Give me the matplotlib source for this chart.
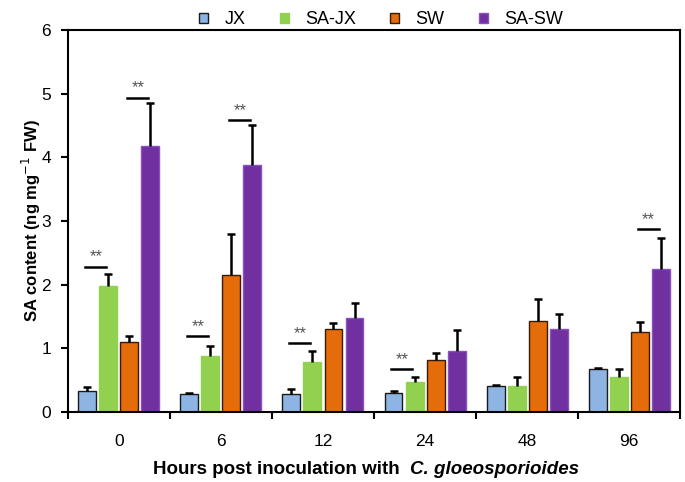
import numpy as np
import matplotlib.pyplot as plt

plt.rcParams['font.family'] = ['Liberation Sans', 'DejaVu Sans']

hours = ["0", "6", "12", "24", "48", "96"]
series = ["JX", "SA-JX", "SW", "SA-SW"]

jx = [0.33, 0.28, 0.29, 0.30, 0.41, 0.67]
sa_jx = [1.98, 0.88, 0.78, 0.48, 0.41, 0.55]
sw = [1.10, 2.15, 1.30, 0.82, 1.43, 1.26]
sa_sw = [4.18, 3.88, 1.48, 0.96, 1.30, 2.24]

jx_err = [0.07, 0.02, 0.07, 0.03, 0.01, 0.02]
sa_jx_err = [0.19, 0.15, 0.18, 0.07, 0.14, 0.12]
sw_err = [0.09, 0.64, 0.10, 0.11, 0.34, 0.15]
sa_sw_err = [0.67, 0.63, 0.23, 0.33, 0.24, 0.49]

# significance: group index, first bar of the pair, line height
sig_group = [0, 0, 1, 1, 2, 3, 5]
sig_bar = [0, 2, 0, 2, 0, 0, 2]
sig_y = [2.28, 4.93, 1.19, 4.58, 1.08, 0.67, 2.87]

colors = ["#8DB4E2", "#92D050", "#E46C0A", "#7030A0"]
edges = ["#1a1a1a", "#92D050", "#3a1a00", "#8a50c0"]

values = [jx, sa_jx, sw, sa_sw]
errors = [jx_err, sa_jx_err, sw_err, sa_sw_err]

fig = plt.figure(figsize=(6.85, 4.82), dpi=100)
ax = fig.add_axes([0.099, 0.145, 0.894, 0.793])

x = np.arange(len(hours))
step = 0.206
width = 0.176
offsets = (np.arange(4) - 1.5) * step

for i in range(4):
    ax.bar(x + offsets[i], values[i], width, color=colors[i], edgecolor=edges[i],
           linewidth=1.0, label=series[i], zorder=2)
    eb = ax.errorbar(x + offsets[i], values[i], yerr=[np.zeros(6), errors[i]], fmt='none',
                     ecolor='black', elinewidth=1.8, capsize=3, capthick=1.8, zorder=3)
    eb[1][0].set_visible(False)  # no cap at the bar top

for g, b, y in zip(sig_group, sig_bar, sig_y):
    x1 = g + offsets[b] - 0.02
    x2 = g + offsets[b + 1] - 0.02
    ax.plot([x1, x2], [y, y], color='black', linewidth=1.8, zorder=4)
    ax.text((x1 + x2) / 2, y + 0.04, "**", ha='center', va='bottom',
            fontsize=12, color='#555555')

ax.set_xlim(-0.5, 5.5)
ax.set_ylim(0, 6)
ax.set_xticks(np.arange(-0.5, 6, 1))
ax.set_xticklabels([])
ax.set_xticks(x, minor=True)
ax.set_xticklabels(hours, minor=True, fontsize=12.5)
ax.tick_params(axis='x', which='minor', length=0, pad=16)
ax.tick_params(axis='x', which='major', direction='out', length=5, width=1.5)
ax.tick_params(axis='y', direction='out', length=5, width=1.5, labelsize=12.5, pad=7)
ax.set_yticks(range(7))
for s in ax.spines.values():
    s.set_linewidth(1.5)

ax.set_ylabel("SA content (ng mg$^{-1}$ FW)", fontsize=12, fontweight='bold', labelpad=-1)

fig.text(0.584, 0.017, "Hours post inoculation with", ha='right', va='baseline',
         fontsize=13.5, fontweight='bold')
fig.text(0.599, 0.017, "C. gloeosporioides", ha='left', va='baseline',
         fontsize=13.5, fontweight='bold', style='italic')

leg = fig.legend(loc='upper center', bbox_to_anchor=(0.556, 1.01), ncol=4, frameon=False,
                 fontsize=13, handlelength=0.5, handleheight=0.5, columnspacing=1.9,
                 handletextpad=0.9)

fig.savefig("out.png", dpi=100)
